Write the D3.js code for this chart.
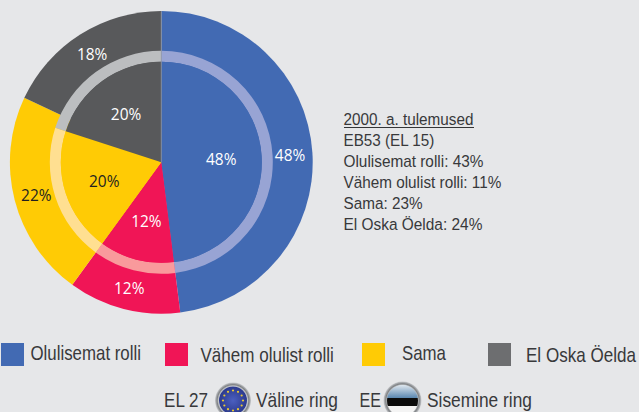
<!DOCTYPE html>
<html><head><meta charset="utf-8">
<script src="https://cdn.jsdelivr.net/npm/d3@7/dist/d3.min.js"></script>
<style>html,body{margin:0;padding:0;background:#e6e7e9}svg{display:block}</style>
</head><body><svg id="c" width="639" height="412"></svg>
<script>
const categories = ["Olulisemat rolli","Vähem olulist rolli","Sama","El Oska Öelda"];
const outerValues = [48,12,22,18];   // EL 27
const innerValues = [48,12,20,20];   // EE
const colors = ["#426ab3","#f01556","#ffcb05","#58595b"];
const ringColors = ["#98a4d4","#f99a9c","#ffdf91","#bcbec0"];
const legendSwatch = ["#426ab3","#f01556","#ffcb05","#6d6e70"];
const outerLabelColors = ["#fff","#fff","#231f20","#fff"];
const innerLabelColors = ["#fff","#fff","#231f20","#fff"];
const noteLines = ["2000. a. tulemused","EB53 (EL 15)","Olulisemat rolli: 43%","Vähem olulist rolli: 11%","Sama: 23%","El Oska Öelda: 24%"];
const legendRing = ["EL 27","Väline ring","EE","Sisemine ring"];

const svg = d3.select("#c");
const SANS = "'Liberation Sans',Arial,sans-serif";
const PIE = "'Open Sans',sans-serif";
svg.append("rect").attr("width",639).attr("height",412).attr("fill","#e6e7e9");

const g = svg.append("g").attr("transform","translate(161.3,162.3)");
const pie = d3.pie().sort(null).value(d=>d);
const outerArcs = pie(outerValues), innerArcs = pie(innerValues);
const arcOuter = d3.arc().innerRadius(0).outerRadius(151.4);
const arcInner = d3.arc().innerRadius(0).outerRadius(100.5);
const arcRing = d3.arc().innerRadius(100.5).outerRadius(111.5);
const lblOuter = d3.arc().innerRadius(107).outerRadius(151);
const lblInner = d3.arc().innerRadius(0).outerRadius(120);

g.selectAll(".o").data(outerArcs).join("path").attr("d",arcOuter).attr("fill",(d,i)=>colors[i]);
g.selectAll(".r").data(innerArcs).join("path").attr("d",arcRing).attr("fill",(d,i)=>ringColors[i]);
g.selectAll(".i").data(innerArcs).join("path").attr("d",arcInner).attr("fill",(d,i)=>colors[i]);
g.append("line").attr("y1",-151).attr("y2",0).attr("stroke","#8f97a8").attr("stroke-width",0.8);

function labels(arcs,gen,cols){
  g.selectAll(null).data(arcs).join("text")
   .attr("text-anchor","middle")
   .attr("font-family",PIE).attr("font-size",17)
   .attr("fill",(d,i)=>cols[i]).text(d=>d.value+"%")
   .each(function(d){
     const [cx,cy]=gen.centroid(d), k=30.5/this.getComputedTextLength();
     d3.select(this).attr("transform",`translate(${cx},${cy+6.6}) scale(${k},1)`);
   });
}
labels(outerArcs,lblOuter,outerLabelColors);
labels(innerArcs,lblInner,innerLabelColors);

function txt(s,x,y,w,size,col){
  const t = svg.append("text").attr("font-family",SANS)
    .attr("font-size",size||16.5).attr("fill",col||"#38393b").text(s);
  const k = w/t.node().getComputedTextLength();
  t.attr("transform",`translate(${x},${y}) scale(${k},1)`);
  return t;
}
// note block
const noteY = d3.scalePoint().domain(d3.range(noteLines.length)).range([125,230]);
const noteW = [130,91,140,158,79,139];
noteLines.forEach((s,i)=>txt(s,343.5,noteY(i),noteW[i],17));
svg.append("line").attr("x1",344).attr("x2",474).attr("y1",127.5).attr("y2",127.5).attr("stroke","#333436").attr("stroke-width",1);

// legend
const swX=[1,165,362,488], tX=[30.5,200.5,402,526], tW=[110.5,133.5,44,110], tY=[360,362,360,362];
categories.forEach((c,i)=>{
  svg.append("rect").attr("x",swX[i]).attr("y",343).attr("width",23).attr("height",23).attr("fill",legendSwatch[i]);
  txt(c,tX[i],tY[i],tW[i],20);
});
txt(legendRing[0],164,407,44,20);
txt(legendRing[1],256,407,82,20);
txt(legendRing[2],359.5,407,21.5,20);
txt(legendRing[3],427,407,105,20);

// icons
const EUX=233, EEX=402.5, ICY=400.5;
const defs = svg.append("defs");
const rim = defs.append("radialGradient").attr("id","rim");
rim.append("stop").attr("offset","76%").attr("stop-color","#eef0f2");
rim.append("stop").attr("offset","88%").attr("stop-color","#7e8184");
rim.append("stop").attr("offset","100%").attr("stop-color","#c9cbce");
const eu = defs.append("radialGradient").attr("id","eu");
eu.append("stop").attr("offset","0%").attr("stop-color","#4b5fc0");
eu.append("stop").attr("offset","100%").attr("stop-color","#2c3a8c");
defs.append("clipPath").attr("id","ee").append("circle").attr("cx",EEX).attr("cy",ICY).attr("r",15.5);
const sky = defs.append("linearGradient").attr("id","sky").attr("x2",0).attr("y2",1);
sky.append("stop").attr("offset","0%").attr("stop-color","#e8eef3");
sky.append("stop").attr("offset","100%").attr("stop-color","#5a87b0");

svg.append("circle").attr("cx",EUX).attr("cy",ICY).attr("r",18).attr("fill","url(#rim)");
svg.append("circle").attr("cx",EUX).attr("cy",ICY).attr("r",14).attr("fill","url(#eu)");
svg.selectAll(".star").data(d3.range(12)).join("circle")
  .attr("cx",d=>EUX+10*Math.sin(d/12*2*Math.PI))
  .attr("cy",d=>ICY-10*Math.cos(d/12*2*Math.PI))
  .attr("r",1.1).attr("fill","#e8c832");

svg.append("circle").attr("cx",EEX).attr("cy",ICY).attr("r",19).attr("fill","url(#rim)");
const ee = svg.append("g").attr("clip-path","url(#ee)");
ee.append("rect").attr("x",EEX-16).attr("y",384).attr("width",32).attr("height",14).attr("fill","url(#sky)");
ee.append("rect").attr("x",EEX-20).attr("y",398).attr("width",40).attr("height",8).attr("fill","#0c0c0c");
ee.append("rect").attr("x",EEX-16).attr("y",406).attr("width",32).attr("height",10).attr("fill","#f4f4f4");
</script></body></html>
